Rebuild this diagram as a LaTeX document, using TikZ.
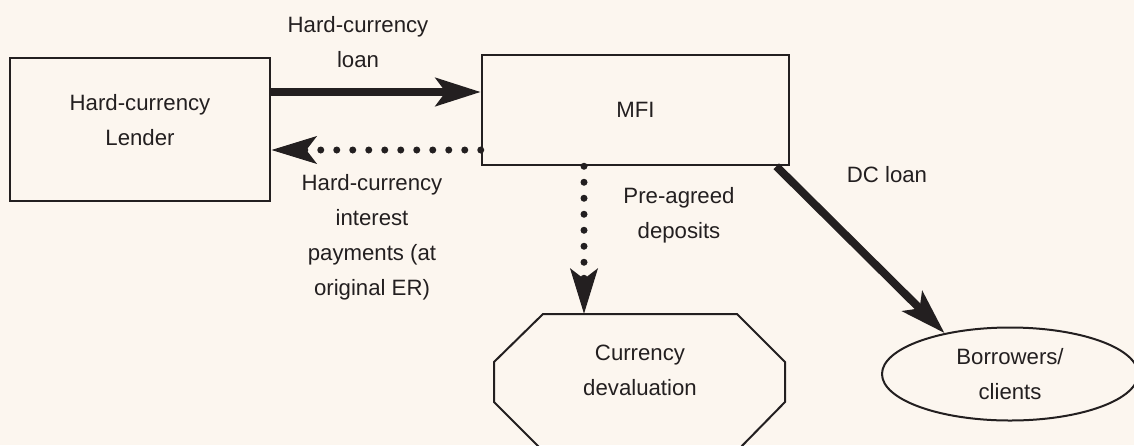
\documentclass[tikz,border=0pt]{standalone}
\usepackage{fontspec}
\setmainfont{Liberation Sans}
\usetikzlibrary{arrows.meta,shapes.geometric}
\definecolor{bg}{HTML}{FCF6EF}
\definecolor{ink}{HTML}{231F20}
\begin{document}
\begin{tikzpicture}[x=1pt,y=-1pt,
  every node/.style={font=\fontsize{22.2}{35}\selectfont, text=ink, align=center},
  box/.style={draw=ink, line width=2.5pt, inner sep=0pt},
  thickarrow/.style={draw=ink, line width=8pt, -{Stealth[length=45pt,width=28pt,inset=10pt]}},
  dotarrow/.style={draw=ink, line width=7pt, line cap=round, dash pattern=on 0pt off 16pt, -{Stealth[length=45pt,width=27pt,inset=10pt]}},
  outline/.style={draw=ink, line width=2pt}]
\useasboundingbox (0,0) rectangle (1134,445);
\fill[bg] (0,0) rectangle (1134,445);
\clip (0,0) rectangle (1134,445);

\node[box, minimum width=260pt, minimum height=143pt] (lender) at (140,129.5) {};
\node (lendertext) at (140,120) {Hard-currency\\Lender};
\node[box, minimum width=307pt, minimum height=110pt] (mfi) at (635.5,110) {MFI};

\node (loanlbl) at (358,42) {Hard-currency\\loan};
\node (intlbl) at (372,237) {Hard-currency\\interest\\payments (at\\original ER)};
\node (prelbl) at (679,215) {Pre-agreed\\deposits};
\node (dclbl) at (887,175) {DC loan};

\draw[outline] (543,314) -- (737,314) -- (785,362) -- (785,402) -- (737,451) -- (543,451) -- (494,402) -- (494,362) -- cycle;
\node (dev) at (640,370) {Currency\\devaluation};
\coordinate (devtop) at (584,314);

\node[ellipse, outline, minimum width=256pt, minimum height=93pt, inner sep=0pt] (borrowers) at (1010,374) {Borrowers/\\clients};

\draw[thickarrow] ([yshift=37.5pt]lender.east) -- ([yshift=18pt]mfi.west);
\draw[dotarrow] ([yshift=-40pt]mfi.west) -- ([yshift=-20.5pt]lender.east);
\draw[dotarrow] ([xshift=-51.5pt]mfi.south) -- (devtop);
\draw[thickarrow] ([xshift=-14pt]mfi.south east) -- (borrowers.148);
\end{tikzpicture}
\end{document}
